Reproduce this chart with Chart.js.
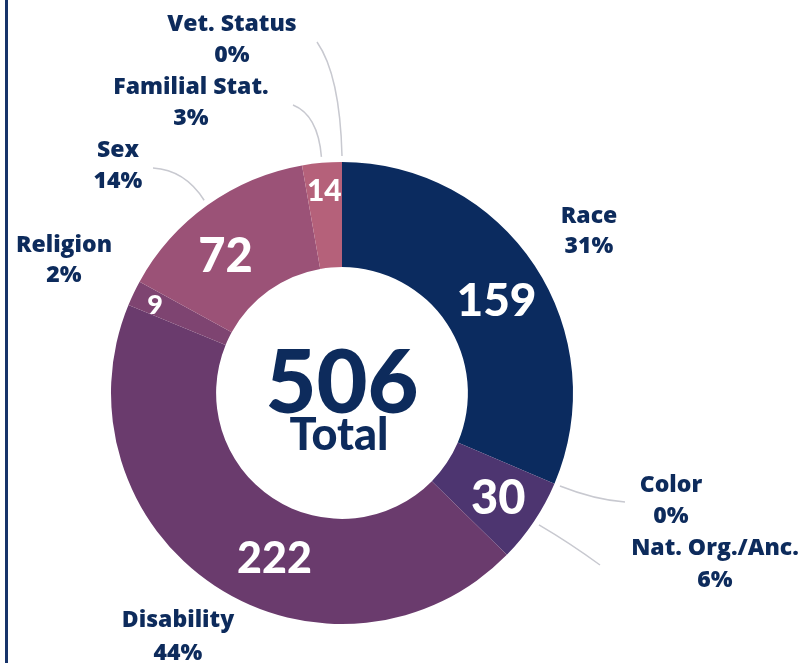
<!DOCTYPE html>
<html>
<head>
<meta charset="utf-8">
<script src="https://cdn.jsdelivr.net/npm/chart.js@4.4.1/dist/chart.umd.min.js"></script>
<style>
  html, body { margin: 0; padding: 0; background: #ffffff; }
  #wrap { position: relative; width: 809px; height: 663px; }
  #edge { position: absolute; left: 5px; top: 0; width: 3px; height: 663px; background: #17346a; }
  canvas { position: absolute; left: 0; top: 0; }
</style>
</head>
<body>
<div id="wrap">
  <canvas id="c" width="809" height="663"></canvas>
  <div id="edge"></div>
</div>
<script>
// ---- data ----
const categories = ["Race", "Color", "Nat. Org./Anc.", "Disability", "Religion", "Sex", "Familial Stat.", "Vet. Status"];
const counts = [159, 0, 30, 222, 9, 72, 14, 0];
const centerLabel = "Total";

// ---- style ----
const sliceColors = ["#0b2b5f", "#2e3068", "#4d3570", "#6a3b6d", "#7e4471", "#9b5277", "#b5617a", "#c06c80"];
const textColor = "#0d2b5c";
const FONT = "Lato, 'Open Sans', sans-serif";
const LABEL_FONT = "'Open Sans', Lato, sans-serif";

// outer label layout
const outerLabelLayout = [
  { x: 589, y1: 223, y2: 253 },
  { x: 671, y1: 492, y2: 523, lead: { end: [625, 502], ctrl: [595, 500], at: 'start' } },
  { x: 715, y1: 555, y2: 587, lead: { end: [600, 565], ctrl: [570, 543], at: 'mid' } },
  { x: 178, y1: 627, y2: 660 },
  { x: 64,  y1: 252, y2: 282 },
  { x: 118, y1: 157, y2: 188, lead: { end: [153, 168], ctrl: [185, 170], at: 'mid' } },
  { x: 191, y1: 94,  y2: 125, lead: { end: [293, 105], ctrl: [318, 115], at: 'mid' } },
  { x: 232, y1: 31,  y2: 62,  lead: { end: [317, 42],  ctrl: [340, 75],  at: 'end' } }
];
// inner value label style: font size, angle fraction in slice, radial fraction in ring
const innerLabelStyle = [
  { size: 46, af: 0.52, rf: 0.52 },
  null,
  { size: 47, af: 0.5,  rf: 0.59 },
  { size: 43, af: 0.43, rf: 0.49 },
  { size: 27, af: 0.45, rf: 0.77 },
  { size: 47, af: 0.41, rf: 0.52 },
  { size: 30, af: 0.5,  rf: 0.74 },
  null
];

const total = counts.reduce((a, b) => a + b, 0);

const labelPlugin = {
  id: 'labels',
  afterDatasetsDraw(chart) {
    const ctx = chart.ctx;
    const meta = chart.getDatasetMeta(0);
    const arcs = meta.data;
    const cx = arcs[0].x, cy = arcs[0].y;
    ctx.save();

    // leader lines
    ctx.strokeStyle = "#c8c9d0";
    ctx.lineWidth = 1.5;
    arcs.forEach((arc, i) => {
      const lay = outerLabelLayout[i];
      if (!lay.lead) return;
      let a;
      if (lay.lead.at === 'start') a = arc.startAngle;
      else if (lay.lead.at === 'end') a = arc.endAngle;
      else a = (arc.startAngle + arc.endAngle) / 2;
      const r = arc.outerRadius + 6;
      const px = cx + r * Math.cos(a), py = cy + r * Math.sin(a);
      ctx.beginPath();
      ctx.moveTo(px, py);
      ctx.quadraticCurveTo(lay.lead.ctrl[0], lay.lead.ctrl[1], lay.lead.end[0], lay.lead.end[1]);
      ctx.stroke();
    });

    // inner value labels
    ctx.fillStyle = "#ffffff";
    ctx.textAlign = "center";
    ctx.textBaseline = "alphabetic";
    arcs.forEach((arc, i) => {
      const st = innerLabelStyle[i];
      if (!st || counts[i] === 0) return;
      const a = arc.startAngle + (arc.endAngle - arc.startAngle) * st.af;
      const r = arc.innerRadius + (arc.outerRadius - arc.innerRadius) * st.rf;
      const x = cx + r * Math.cos(a), y = cy + r * Math.sin(a);
      ctx.font = "900 " + st.size + "px " + FONT;
      ctx.fillText(String(counts[i]), x, y + st.size * 0.36);
    });

    // outer category labels
    ctx.fillStyle = textColor;
    ctx.font = "800 23px " + LABEL_FONT;
    categories.forEach((name, i) => {
      const lay = outerLabelLayout[i];
      const pct = Math.round(counts[i] / total * 100) + "%";
      ctx.fillText(name, lay.x, lay.y1);
      ctx.fillText(pct, lay.x, lay.y2);
    });

    // center text
    ctx.font = "900 88px " + FONT;
    ctx.fillText(String(total), cx, 413);
    ctx.font = "900 45px " + FONT;
    ctx.fillText(centerLabel, cx - 3, 450);
    ctx.restore();
  }
};

new Chart(document.getElementById('c'), {
  type: 'doughnut',
  data: {
    labels: categories,
    datasets: [{
      data: counts,
      backgroundColor: sliceColors,
      borderWidth: 0,
      hoverOffset: 0
    }]
  },
  options: {
    responsive: false,
    animation: false,
    cutout: '54.5%',
    layout: { padding: { left: 111, top: 162, right: 236, bottom: 39 } },
    plugins: {
      legend: { display: false },
      tooltip: { enabled: false }
    }
  },
  plugins: [labelPlugin]
});
</script>
</body>
</html>
